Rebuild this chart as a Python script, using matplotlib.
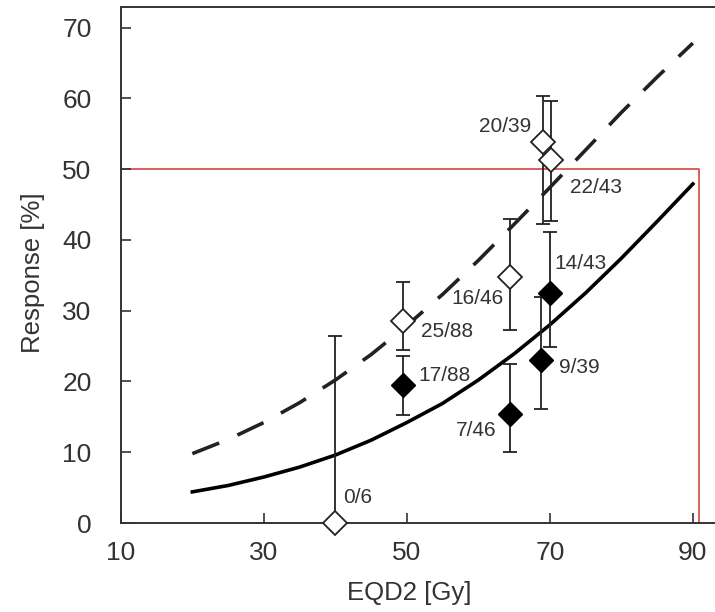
import matplotlib
matplotlib.use("Agg")
import matplotlib.pyplot as plt

# fitted curves
curve_x = [20, 25, 30, 35, 40, 45, 50, 55, 60, 65, 70, 75, 80, 85, 90]
solid_y = [4.4, 5.3, 6.5, 7.9, 9.6, 11.7, 14.2, 16.9, 20.2, 23.9, 28.0, 32.5, 37.4, 42.6, 47.9]
dashed_y = [9.8, 11.8, 14.2, 17.0, 20.2, 23.8, 27.9, 32.3, 37.1, 42.2, 47.4, 52.7, 58.0, 63.0, 67.8]

# open diamonds
open_x = [40, 49.5, 64.4, 69.0, 70.1]
open_y = [0, 28.6, 34.8, 53.9, 51.3]
open_lo = [0, 24.5, 27.3, 42.3, 42.6]
open_hi = [26.4, 34.0, 43.0, 60.3, 59.6]
open_lab = ['0/6', '25/88', '16/46', '20/39', '22/43']

# filled diamonds
filled_x = [49.5, 64.4, 68.8, 70.0]
filled_y = [19.5, 15.4, 23.1, 32.5]
filled_lo = [15.2, 10.0, 16.1, 24.9]
filled_hi = [23.6, 22.5, 32.0, 41.1]
filled_lab = ['17/88', '7/46', '9/39', '14/43']

xticks = [10, 30, 50, 70, 90]
yticks = [0, 10, 20, 30, 40, 50, 60, 70]

# label placement (data coords, horizontal alignment)
label_pos = {
    '0/6': (41.1, 3.6, 'left'),
    '25/88': (52.0, 27.0, 'left'),
    '16/46': (63.5, 31.7, 'right'),
    '20/39': (67.4, 56.0, 'right'),
    '22/43': (72.8, 47.4, 'left'),
    '17/88': (51.6, 20.8, 'left'),
    '7/46': (62.6, 13.1, 'right'),
    '9/39': (71.3, 22.0, 'left'),
    '14/43': (70.6, 36.6, 'left'),
}

plt.rcParams['font.family'] = ['Liberation Sans', 'DejaVu Sans']
dark = '#333333'

fig = plt.figure(figsize=(7.15, 6.12), dpi=100)
ax = fig.add_axes([0.169, 0.1454, 0.831, 0.8431])

# red box
ax.plot([10, 90.8, 90.8], [50, 50, 0], color='#d9534f', lw=1.3, zorder=1)

ax.plot(curve_x, solid_y, color='black', lw=2.6, zorder=2)
ax.plot(curve_x, dashed_y, color='#222222', lw=2.6, dashes=(8, 5.5), zorder=2)

err_open = [[y - lo for y, lo in zip(open_y, open_lo)], [hi - y for y, hi in zip(open_y, open_hi)]]
err_filled = [[y - lo for y, lo in zip(filled_y, filled_lo)], [hi - y for y, hi in zip(filled_y, filled_hi)]]

ax.errorbar(filled_x, filled_y, yerr=err_filled, fmt='D', ms=12, mfc='black', mec='black',
            ecolor='#222222', elinewidth=1.3, capsize=4.8, capthick=1.3, zorder=3)
ax.errorbar(open_x, open_y, yerr=err_open, fmt='D', ms=12, mfc='white', mec='#222222', mew=1.3,
            ecolor='#222222', elinewidth=1.3, capsize=4.8, capthick=1.3, zorder=4, clip_on=False)

for lab in open_lab + filled_lab:
    lx, ly, ha = label_pos[lab]
    ax.text(lx, ly, lab, ha=ha, va='center', fontsize=15, color=dark, zorder=5)

ax.set_xlim(10, 93.1)
ax.set_ylim(0, 72.9)
ax.set_xticks(xticks)
ax.set_yticks(yticks)

for side in ['left', 'top', 'bottom']:
    ax.spines[side].set_color(dark)
    ax.spines[side].set_linewidth(1.4)
ax.spines['right'].set_visible(False)

ax.tick_params(direction='in', length=7, width=1.2, color=dark, labelcolor=dark, labelsize=19)
ax.tick_params(axis='x', pad=13)
ax.tick_params(axis='y', pad=21)

ax.set_xlabel('EQD2 [Gy]', fontsize=18.5, color=dark)
ax.set_ylabel('Response [%]', fontsize=18.5, color=dark)
ax.xaxis.set_label_coords(0.485, -0.112)
ax.yaxis.set_label_coords(-0.128, 0.4845)

fig.savefig('out.png', dpi=100)
